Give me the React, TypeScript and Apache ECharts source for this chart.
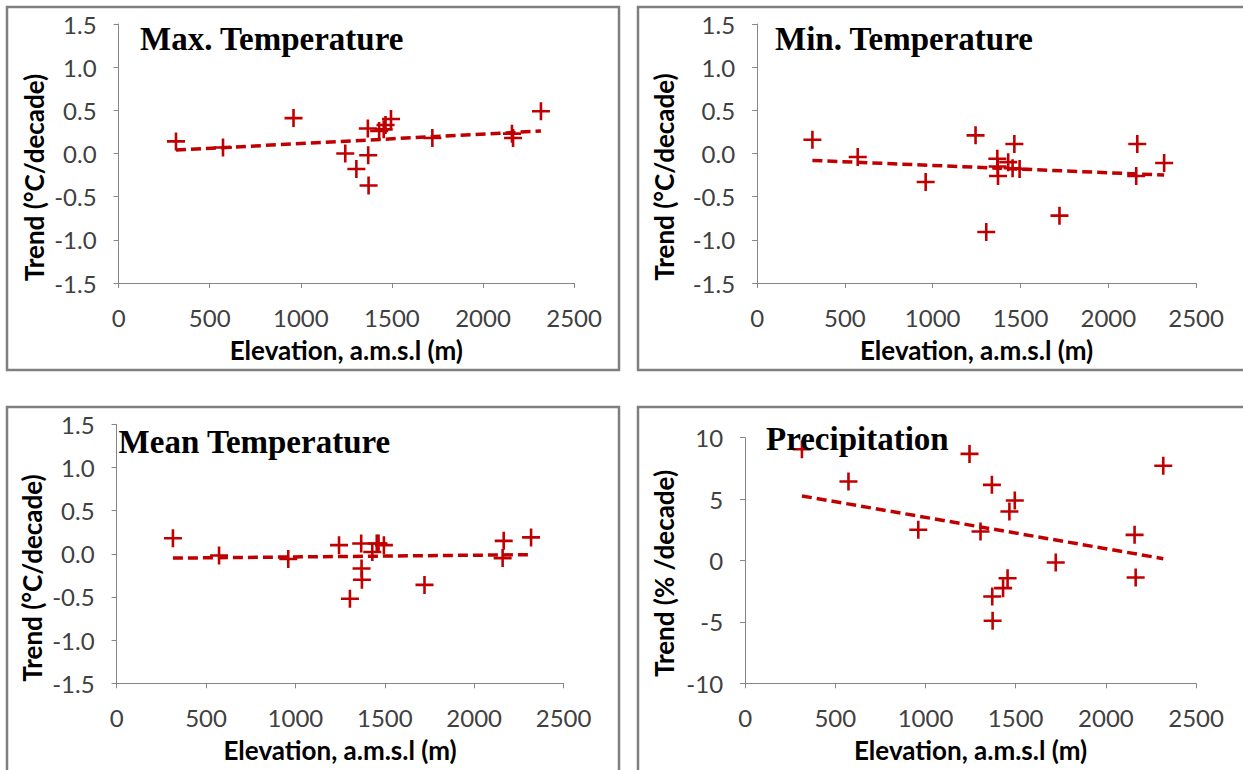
import React, { useEffect, useRef } from "react";
import * as echarts from "echarts";

// Station elevations (m a.m.s.l.)
const elevation = [315, 573, 960, 1244, 1305, 1368, 1370, 1372, 1430, 1455, 1465, 1495, 1722, 2159, 2165, 2318];

// Trends per station
const maxTemp = [0.14, 0.07, 0.41, 0.0, -0.18, 0.29, -0.02, -0.37, 0.26, 0.28, 0.33, 0.4, 0.18, 0.23, 0.18, 0.49];
const minTemp = [0.16, -0.04, -0.33, 0.21, -0.91, -0.06, -0.15, -0.26, -0.1, -0.17, 0.11, -0.18, -0.72, -0.26, 0.11, -0.11];
const meanTemp = [0.18, -0.02, -0.06, 0.1, -0.52, 0.12, -0.17, -0.3, 0.02, 0.12, 0.12, 0.1, -0.36, -0.05, 0.15, 0.19];
const precip = [9.06, 6.43, 2.5, 8.68, 2.36, 6.16, -2.93, -4.91, -2.25, -1.44, 3.99, 4.88, -0.16, 2.09, -1.38, 7.71];

// Linear trend lines (end points)
const trendX = [315, 2318];
const maxTrend = [0.04, 0.26];
const minTrend = [-0.08, -0.25];
const meanTrend = [-0.05, -0.01];
const precipTrend = [5.26, 0.15];

const titles = ["Max. Temperature", "Min. Temperature", "Mean Temperature", "Precipitation"];
const yNames = ["Trend (°C/decade)", "Trend (°C/decade)", "Trend (°C/decade)", "Trend (% /decade)"];
const xName = "Elevation, a.m.s.l (m)";

const RED = "#C00000";
const PLUS = "path://M7.7,0 H10.3 V7.7 H18 V10.3 H10.3 V18 H7.7 V10.3 H0 V7.7 H7.7 Z";
const LABEL_FONT = "Lato, 'Open Sans', sans-serif";

export default function App() {
  const ref = useRef<HTMLDivElement>(null);

  useEffect(() => {
    if (!ref.current) return;
    const chart = echarts.init(ref.current, undefined, { renderer: "svg" });

    const grids = [
      { left: 118.6, top: 24, width: 455.5, height: 259 },
      { left: 757.1, top: 24, width: 439, height: 259 },
      { left: 116.6, top: 424.3, width: 447, height: 259 },
      { left: 745.1, top: 437.7, width: 451, height: 245.6 },
    ];
    const yRanges = [
      { min: -1.5, max: 1.5, interval: 0.5, dec: 1 },
      { min: -1.5, max: 1.5, interval: 0.5, dec: 1 },
      { min: -1.5, max: 1.5, interval: 0.5, dec: 1 },
      { min: -10, max: 10, interval: 5, dec: 0 },
    ];
    const values = [maxTemp, minTemp, meanTemp, precip];
    const trends = [maxTrend, minTrend, meanTrend, precipTrend];

    const axisLine = { show: true, onZero: false, lineStyle: { color: "#868686", width: 1 } };
    const axisTick = { show: true, length: 5, inside: false, lineStyle: { color: "#868686" } };

    const xAxis = grids.map((_, i) => ({
      type: "value",
      gridIndex: i,
      min: 0,
      max: 2500,
      interval: 500,
      splitLine: { show: false },
      axisLine,
      axisTick,
      axisLabel: {
        color: "#404040",
        fontSize: 24,
        fontFamily: LABEL_FONT,
        margin: 22,
        formatter: (v: number) => String(v),
      },
      name: xName,
      nameLocation: "middle",
      nameGap: 54,
      nameTextStyle: { color: "#000", fontSize: 26, fontWeight: "bold", fontFamily: LABEL_FONT },
    }));

    const yAxis = yRanges.map((r, i) => ({
      type: "value",
      gridIndex: i,
      min: r.min,
      max: r.max,
      interval: r.interval,
      splitLine: { show: false },
      axisLine,
      axisTick,
      axisLabel: {
        color: "#404040",
        fontSize: 24,
        fontFamily: LABEL_FONT,
        margin: 22,
        formatter: (v: number) => v.toFixed(r.dec),
      },
    }));

    const series: any[] = [];
    values.forEach((vals, i) => {
      series.push({
        type: "scatter",
        xAxisIndex: i,
        yAxisIndex: i,
        symbol: PLUS,
        symbolSize: 18,
        itemStyle: { color: RED, opacity: 1 },
        data: elevation.map((e, j) => [e, vals[j]]),
        z: 3,
      });
      series.push({
        type: "line",
        xAxisIndex: i,
        yAxisIndex: i,
        showSymbol: false,
        symbol: "none",
        lineStyle: { color: RED, width: 3.5, type: [10, 5] },
        data: trendX.map((x, j) => [x, trends[i][j]]),
        z: 2,
      });
    });

    const frames = [
      { x: 7, y: 7, width: 612, height: 363 },
      { x: 638, y: 7, width: 620, height: 363 },
      { x: 7, y: 407, width: 612, height: 380 },
      { x: 638, y: 407, width: 620, height: 380 },
    ];
    const titlePos = [
      { x: 140, y: 39 },
      { x: 775, y: 39 },
      { x: 118.6, y: 441.7 },
      { x: 766, y: 439 },
    ];
    const yNamePos = [
      { x: 34, y: 177.5 },
      { x: 664, y: 177 },
      { x: 32, y: 578 },
      { x: 664, y: 573.5 },
    ];

    const graphic: any[] = [];
    frames.forEach((f) => {
      graphic.push({
        type: "rect",
        shape: f,
        style: { fill: "none", stroke: "#7f7f7f", lineWidth: 2.5 },
        silent: true,
        z: -1,
      });
    });
    titles.forEach((t, i) => {
      graphic.push({
        type: "text",
        x: titlePos[i].x,
        y: titlePos[i].y,
        style: {
          text: t,
          fill: "#000",
          font: "bold 33px 'Liberation Serif', 'Times New Roman', serif",
          textAlign: "left",
          textVerticalAlign: "middle",
        },
        z: 10,
      });
    });
    yNames.forEach((t, i) => {
      graphic.push({
        type: "text",
        x: yNamePos[i].x,
        y: yNamePos[i].y,
        rotation: Math.PI / 2,
        style: {
          text: t,
          fill: "#000",
          font: `bold 26px ${LABEL_FONT}`,
          textAlign: "center",
          textVerticalAlign: "middle",
        },
        z: 10,
      });
    });

    chart.setOption({
      animation: false,
      backgroundColor: "#fff",
      grid: grids,
      xAxis,
      yAxis,
      series,
      graphic,
    });

    return () => chart.dispose();
  }, []);

  return (
    <div
      ref={ref}
      style={{ position: "absolute", left: 0, top: 0, width: 1243, height: 770 }}
    />
  );
}
